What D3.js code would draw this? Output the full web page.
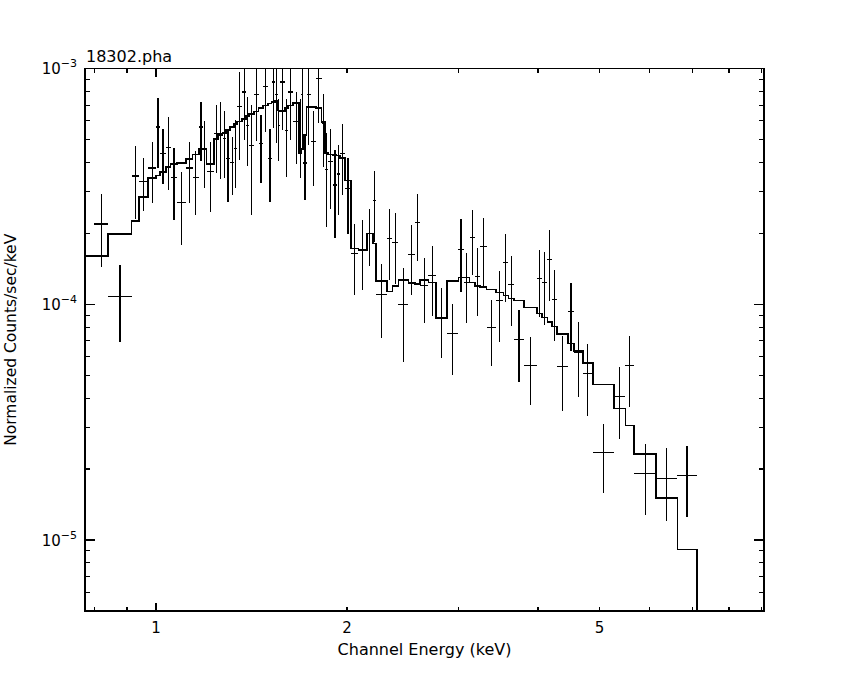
<!DOCTYPE html>
<html><head><meta charset="utf-8">
<script src="https://cdn.jsdelivr.net/npm/d3@7"></script>
<style>
body{margin:0;background:#fff}
svg{display:block}
text{font-family:"DejaVu Sans",sans-serif;fill:#000}
</style>
</head><body>
<svg id="c" width="850" height="680"></svg>
<script>
// ---------- data ----------
const titleText = "18302.pha";
const xTitle = "Channel Energy (keV)";
const yTitle = "Normalized Counts/sec/keV";

// channel bin edges (keV)
const binEdges = [0.80, 0.841, 0.9156, 0.9412, 0.9724, 1.0, 1.0146, 1.037, 1.0548, 1.0803,
  1.1149, 1.1424, 1.1688, 1.1855, 1.202, 1.2342, 1.2536, 1.2738, 1.2891, 1.308,
  1.3286, 1.3431, 1.3677, 1.3862, 1.4029, 1.427, 1.4516, 1.476, 1.5031, 1.5217,
  1.54, 1.5552, 1.5682, 1.5969, 1.6161, 1.6457, 1.682, 1.6943, 1.7066, 1.7278,
  1.755, 1.7871, 1.8245, 1.8465, 1.8647, 1.9029, 1.9265, 1.9497, 1.9865, 2.0295,
  2.084, 2.1484, 2.1957, 2.2197, 2.3101, 2.3575, 2.4094, 2.4985, 2.5599, 2.6067,
  2.6863, 2.7624, 2.8718, 2.9955, 3.0525, 3.1197, 3.1826, 3.2409, 3.3182, 3.4308,
  3.5267, 3.5913, 3.6664, 3.8017, 3.9811, 4.054, 4.1373, 4.2039, 4.2809, 4.4552,
  4.5582, 4.7046, 4.8783, 5.2708, 5.492, 5.6682, 6.1391, 6.6308, 7.1146];

// observed normalized counts/sec/keV per bin
const rate = [2.19e-4, 1.08e-4, 3.50e-4, 3.33e-4, 3.79e-4, 5.65e-4, 4.38e-4, 4.64e-4, 3.44e-4, 2.71e-4,
  3.79e-4, 3.44e-4, 5.65e-4, 4.57e-4, 3.67e-4, 5.29e-4, 5.30e-4, 5.04e-4, 4.14e-4, 4.01e-4,
  4.57e-4, 6.90e-4, 7.96e-4, 5.74e-4, 4.70e-4, 7.75e-4, 4.80e-4, 8.38e-4, 4.14e-4, 8.78e-4,
  7.75e-4, 5.74e-4, 8.78e-4, 5.46e-4, 7.96e-4, 5.95e-4, 5.45e-4, 7.75e-4, 3.98e-4, 7.75e-4,
  4.89e-4, 9.07e-4, 5.83e-4, 3.72e-4, 4.03e-4, 3.21e-4, 3.57e-4, 4.35e-4, 3.09e-4, 1.64e-4,
  1.71e-4, 2.00e-4, 2.75e-4, 1.10e-4, 1.90e-4, 1.83e-4, 1.00e-4, 1.63e-4, 2.23e-4, 1.20e-4,
  1.33e-4, 8.8e-5, 7.52e-5, 1.71e-4, 1.24e-4, 1.92e-4, 1.31e-4, 1.76e-4, 7.96e-5, 1.04e-4,
  1.50e-4, 1.21e-4, 7.07e-5, 5.50e-5, 1.29e-4, 1.24e-4, 1.55e-4, 1.05e-4, 5.43e-5, 9.31e-5,
  6.23e-5, 5.09e-5, 2.35e-5, 4.05e-5, 5.50e-5, 1.92e-5, 1.83e-5, 1.88e-5];

// 1-sigma errors per bin
const rateErr = [0.75e-4, 0.385e-4, 1.2e-4, 0.85e-4, 1.1e-4, 1.85e-4, 1.15e-4, 1.59e-4, 1.16e-4, 0.92e-4,
  1.1e-4, 1.05e-4, 1.6e-4, 1.45e-4, 1.21e-4, 1.7e-4, 1.9e-4, 1.6e-4, 1.42e-4, 1.1e-4,
  1.46e-4, 2.8e-4, 3.0e-4, 1.86e-4, 2.3e-4, 2.8e-4, 1.53e-4, 3.0e-4, 1.42e-4, 3.2e-4,
  2.9e-4, 1.7e-4, 3.3e-4, 2.0e-4, 3.0e-4, 2.0e-4, 2.0e-4, 2.8e-4, 1.21e-4, 3.0e-4,
  1.7e-4, 3.2e-4, 2.0e-4, 1.6e-4, 1.5e-4, 1.3e-4, 1.18e-4, 1.45e-4, 1.1e-4, 0.55e-4,
  0.56e-4, 0.54e-4, 0.92e-4, 0.38e-4, 0.63e-4, 0.61e-4, 0.43e-4, 0.54e-4, 0.71e-4, 0.37e-4,
  0.44e-4, 0.29e-4, 0.25e-4, 0.58e-4, 0.41e-4, 0.59e-4, 0.42e-4, 0.56e-4, 0.25e-4, 0.35e-4,
  0.48e-4, 0.40e-4, 0.24e-4, 0.175e-4, 0.41e-4, 0.42e-4, 0.52e-4, 0.35e-4, 0.19e-4, 0.30e-4,
  0.218e-4, 0.173e-4, 0.077e-4, 0.136e-4, 0.183e-4, 0.064e-4, 0.063e-4, 0.063e-4];

// folded model per bin
const model = [1.605e-4, 1.986e-4, 2.262e-4, 2.845e-4, 3.426e-4, 3.515e-4, 3.634e-4, 3.817e-4, 3.94e-4, 3.98e-4,
  4.14e-4, 4.32e-4, 4.57e-4, 4.57e-4, 3.93e-4, 5.04e-4, 5.24e-4, 5.34e-4, 5.50e-4, 5.65e-4,
  5.83e-4, 5.97e-4, 6.13e-4, 6.29e-4, 6.43e-4, 6.58e-4, 6.82e-4, 6.98e-4, 7.10e-4, 7.22e-4,
  7.33e-4, 6.65e-4, 6.61e-4, 6.80e-4, 6.98e-4, 7.15e-4, 4.38e-4, 4.57e-4, 5.24e-4, 6.87e-4,
  6.89e-4, 6.80e-4, 5.93e-4, 4.38e-4, 4.32e-4, 4.31e-4, 4.28e-4, 4.18e-4, 3.35e-4, 1.726e-4,
  1.698e-4, 2.0e-4, 1.813e-4, 1.257e-4, 1.132e-4, 1.197e-4, 1.269e-4, 1.229e-4, 1.217e-4, 1.269e-4,
  1.237e-4, 8.72e-5, 1.257e-4, 1.299e-4, 1.299e-4, 1.237e-4, 1.197e-4, 1.181e-4, 1.158e-4, 1.121e-4,
  1.092e-4, 1.06e-4, 1.04e-4, 9.68e-5, 9.13e-5, 8.78e-5, 8.41e-5, 8.04e-5, 7.50e-5, 6.82e-5,
  6.33e-5, 5.65e-5, 4.57e-5, 3.62e-5, 3.06e-5, 2.32e-5, 1.504e-5, 9.13e-6];
const modelLowEdge = 0.776;      // model histogram starts here
const modelTailEdge = 7.8;       // extra model bin beyond the data
const modelTailValue = 3.0e-6;   // (below the plotted range)

// axis ticks
const xDomain = [0.773, 9.08];
const yDomain = [5e-6, 1e-3];
const xTickValues = [0.8, 0.9, 1, 2, 3, 4, 5, 6, 7, 8, 9];
const xMajorTicks = [1];
const xTickLabels = [1, 2, 5];
const yDecades = [-6, -5, -4, -3];
const yTickLabels = [-5, -4, -3];

// ---------- drawing ----------
const svg = d3.select("#c");
const L = 85, R = 764, T = 68.6, B = 611;
const x = d3.scaleLog().domain(xDomain).range([L, R]);
const y = d3.scaleLog().domain(yDomain).range([B, T]);

svg.append("rect").attr("width", 850).attr("height", 680).attr("fill", "#fff");

svg.append("clipPath").attr("id", "clip")
  .append("rect").attr("x", L).attr("y", T).attr("width", R - L).attr("height", B - T);

const plot = svg.append("g").attr("clip-path", "url(#clip)");

// data crosses
const bins = rate.map((r, i) => ({lo: binEdges[i], hi: binEdges[i + 1], r: r, e: rateErr[i]}));
const cross = plot.append("g").attr("stroke", "#000").attr("stroke-width", 1.2)
  .attr("shape-rendering", "crispEdges").attr("fill", "none");
bins.forEach(b => {
  const xc = Math.sqrt(b.lo * b.hi);
  cross.append("line").attr("x1", x(b.lo)).attr("x2", x(b.hi)).attr("y1", y(b.r)).attr("y2", y(b.r));
  const lowVal = Math.max(b.r - b.e, 1e-7);
  cross.append("line").attr("x1", x(xc)).attr("x2", x(xc)).attr("y1", y(b.r + b.e)).attr("y2", y(lowVal));
});

// model step line
const modelPts = [];
modelPts.push([modelLowEdge, model[0]]);
for (let i = 1; i < model.length; i++) modelPts.push([binEdges[i], model[i]]);
modelPts.push([binEdges[binEdges.length - 1], modelTailValue]);
modelPts.push([modelTailEdge, modelTailValue]);
const line = d3.line().x(d => x(d[0])).y(d => y(d[1])).curve(d3.curveStepAfter);
plot.append("path").attr("d", line(modelPts)).attr("fill", "none")
  .attr("stroke", "#000").attr("stroke-width", 1.6).attr("shape-rendering", "crispEdges");

// frame
svg.append("rect").attr("x", L).attr("y", T).attr("width", R - L).attr("height", B - T)
  .attr("fill", "none").attr("stroke", "#000").attr("stroke-width", 1.2).attr("shape-rendering", "crispEdges");

// ticks
const tk = svg.append("g").attr("stroke", "#000").attr("stroke-width", 1.2).attr("shape-rendering", "crispEdges");
xTickValues.forEach(v => {
  const len = xMajorTicks.includes(v) ? 8 : 4.5;
  const px = x(v);
  tk.append("line").attr("x1", px).attr("x2", px).attr("y1", B).attr("y2", B - len);
  tk.append("line").attr("x1", px).attr("x2", px).attr("y1", T).attr("y2", T + len);
});
const yTickValues = [];
yDecades.forEach(d => {
  for (let m = 1; m <= 9; m++) {
    const v = m * Math.pow(10, d);
    if (v >= yDomain[0] * 0.999 && v <= yDomain[1] * 1.001) yTickValues.push({v: v, major: m === 1});
  }
});
yTickValues.forEach(t => {
  const len = t.major ? 10 : 5;
  const py = y(t.v);
  tk.append("line").attr("x1", L).attr("x2", L + len).attr("y1", py).attr("y2", py);
  tk.append("line").attr("x1", R).attr("x2", R - len).attr("y1", py).attr("y2", py);
});

// tick labels
xTickLabels.forEach(v => {
  svg.append("text").attr("x", x(v)).attr("y", 632.5).attr("text-anchor", "middle")
    .attr("font-size", 15).text(v);
});
yTickLabels.forEach(d => {
  const t = svg.append("text").attr("x", 77).attr("y", y(Math.pow(10, d)) + 5.5)
    .attr("text-anchor", "end").attr("font-size", 15);
  t.append("tspan").text("10");
  t.append("tspan").attr("dy", -7).attr("font-size", 11).text("\u2212" + Math.abs(d));
});

// titles
svg.append("text").attr("x", 86).attr("y", 61.5).attr("font-size", 16).text(titleText);
svg.append("text").attr("x", (L + R) / 2).attr("y", 655).attr("text-anchor", "middle")
  .attr("font-size", 16).text(xTitle);
svg.append("text").attr("transform", `translate(15.5,${(T + B) / 2}) rotate(-90)`)
  .attr("text-anchor", "middle").attr("font-size", 15.5).text(yTitle);
</script>
</body></html>
